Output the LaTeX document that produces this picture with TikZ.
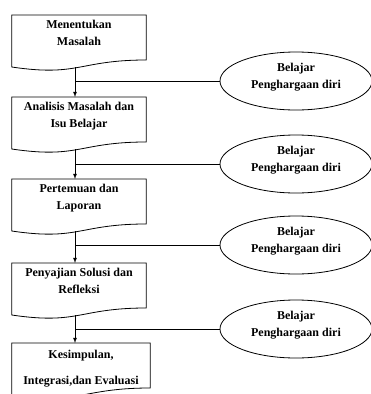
\documentclass[tikz,border=0pt]{standalone}
\usepackage{fontspec}
\setmainfont{Liberation Serif}
\usepackage{tikz}
\usetikzlibrary{arrows,shapes}
\tikzstyle{docbox}=[anchor=north,align=center,minimum width=134pt,inner ysep=5pt,font=\bfseries\fontsize{12}{17}\selectfont]
\tikzstyle{oval}=[draw,ellipse,align=center,minimum width=152pt,minimum height=58pt,inner sep=0,text depth=10pt,line width=0.8pt,font=\bfseries\fontsize{12}{17}\selectfont]
\tikzstyle{docedge}=[draw,line width=0.8pt,black]
\tikzstyle{flow}=[>=latex,draw,line width=0.8pt,black]
\tikzstyle{link}=[draw,line width=0.8pt,black]
% outline of a document box, drawn from the node's top edge
\newcommand{\docoutline}[1]{%
	\path[docedge] (#1.north west) -- (#1.north east) -- ([yshift=-45pt]#1.north east)
	.. controls ([yshift=-45pt]#1.north) and ([yshift=-62pt]#1.north) .. ([yshift=-52pt]#1.north west) -- cycle;}

\begin{document}
\begin{tikzpicture}[x=1pt,y=-1pt]

	\useasboundingbox (0,0) rectangle (370,394);

	\node[docbox] (ms) at (79,15) {Menentukan\\ Masalah};
	\node[docbox] (am) at (79,97) {Analisis Masalah dan\\ Isu Belajar};
	\node[docbox] (pl) at (79,179) {Pertemuan dan\\ Laporan};
	\node[docbox] (ps) at (79,263) {Penyajian Solusi dan\\ Refleksi};
	\node[docbox,minimum width=138pt,inner ysep=7pt,font=\bfseries\fontsize{12}{26}\selectfont] (ke) at (81,343) {Kesimpulan,\\ Integrasi,dan Evaluasi};

	\docoutline{ms}
	\docoutline{am}
	\docoutline{pl}
	\docoutline{ps}
	\docoutline{ke}

	\node[oval] (bp1) at (296,81) {Belajar\\ Penghargaan diri};
	\node[oval] (bp2) at (296,164) {Belajar\\ Penghargaan diri};
	\node[oval] (bp3) at (296,245) {Belajar\\ Penghargaan diri};
	\node[oval] (bp4) at (296,329) {Belajar\\ Penghargaan diri};


% % % flow

	\path[flow,->] ([xshift=-4pt,yshift=-52pt]ms.north) -- ([xshift=-4pt]am.north);
	\path[flow,->] ([xshift=-4pt,yshift=-52pt]am.north) -- ([xshift=-4pt]pl.north);
	\path[flow,->] ([xshift=-4pt,yshift=-52pt]pl.north) -- ([xshift=-4pt]ps.north);
	\path[flow,->] ([xshift=-4pt,yshift=-52pt]ps.north) -- ([xshift=-6pt]ke.north);


% % % branches

	\coordinate (j1) at (75,81);
	\coordinate (j2) at (75,164);
	\coordinate (j3) at (75,245);
	\coordinate (j4) at (75,329);

	\path[link] (j1) -- (bp1);
	\path[link] (j2) -- (bp2);
	\path[link] (j3) -- (bp3);
	\path[link] (j4) -- (bp4);

\end{tikzpicture}
\end{document}
